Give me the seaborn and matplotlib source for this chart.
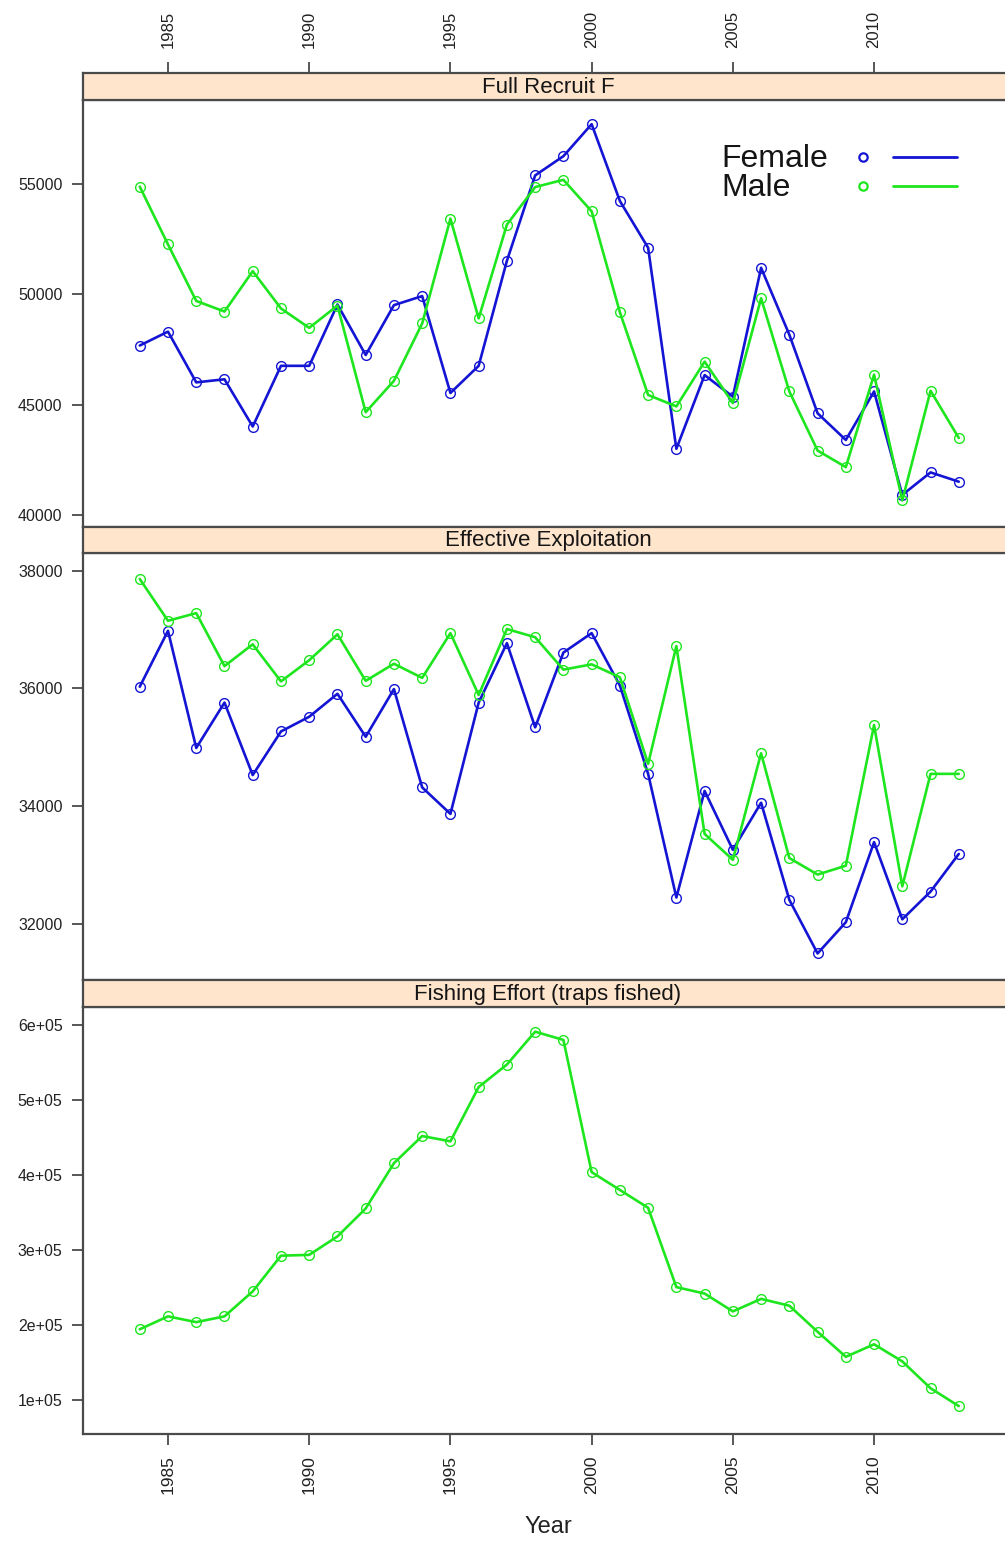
import matplotlib
matplotlib.use("Agg")
import matplotlib.pyplot as plt
from matplotlib.lines import Line2D
import seaborn as sns
import pandas as pd

# ---- data -------------------------------------------------------------
years = list(range(1984, 2014))

recruit_female = [47680, 48310, 46010, 46150, 44010, 46760, 46760, 49540, 47250, 49510,
                  49920, 45530, 46760, 51520, 55390, 56260, 57710, 54230, 52110, 43000,
                  46340, 45360, 51200, 48170, 44610, 43400, 45600, 40910, 41930, 41510]
recruit_male = [54880, 52260, 49700, 49220, 51050, 49360, 48480, 49490, 44660, 46080,
                48680, 53430, 48910, 53160, 54860, 55190, 53760, 49190, 45440, 44920,
                46950, 45070, 49820, 45600, 42920, 42170, 46360, 40660, 45630, 43490]

exploit_female = [36030, 36980, 34990, 35760, 34530, 35270, 35520, 35910, 35180, 35990,
                  34320, 33870, 35760, 36770, 35340, 36610, 36940, 36050, 34550, 32450,
                  34260, 33260, 34060, 32410, 31500, 32030, 33390, 32080, 32550, 33190]
exploit_male = [37860, 37150, 37280, 36380, 36750, 36120, 36480, 36920, 36130, 36420,
                36180, 36940, 35890, 37010, 36870, 36320, 36410, 36190, 34720, 36720,
                33530, 33090, 34900, 33120, 32840, 32990, 35380, 32640, 34550, 34550]

effort = [193800, 211000, 203300, 211000, 244300, 291900, 293000, 317600, 354800, 415200,
          451400, 444300, 516700, 546700, 590500, 579500, 403300, 379500, 355700, 250000,
          241400, 217600, 234300, 225200, 190500, 157100, 173800, 151000, 115200, 91400]

panel_titles = ["Full Recruit F", "Effective Exploitation", "Fishing Effort (traps fished)"]
xticks = [1985, 1990, 1995, 2000, 2005, 2010]
yticks_recruit = [40000, 45000, 50000, 55000]
yticks_exploit = [32000, 34000, 36000, 38000]
yticks_effort = [100000, 200000, 300000, 400000, 500000, 600000]
effort_labels = ["1e+05", "2e+05", "3e+05", "4e+05", "5e+05", "6e+05"]

BLUE = "#1414d4"
GREEN = "#1ee61e"
STRIP = "#ffe5cc"
FRAME = "#4a4a4a"
TEXT = "#151515"

sns.set_theme(style="white")
plt.rcParams["font.family"] = ["Liberation Sans", "DejaVu Sans"]

W, H = 1005, 1541
fig = plt.figure(figsize=(W / 100, H / 100), dpi=100)

x0, x1 = 82.7, 1013.3
panels = [(100.0, 526.7), (552.7, 980.0), (1007.3, 1434.3)]
strips = [(73.0, 100.0), (526.7, 552.7), (980.0, 1007.3)]
ylims = [(39470, 58806), (31049, 38306), (53800, 623000)]
xlim = (1981.98, 2014.93)


def rect(top, bottom):
    return [x0 / W, 1 - bottom / H, (x1 - x0) / W, (bottom - top) / H]


def draw_series(ax, y, color):
    df = pd.DataFrame({"Year": years, "value": y})
    sns.lineplot(data=df, x="Year", y="value", ax=ax, color=color, linewidth=1.9,
                 marker="o", markersize=7, markerfacecolor="none",
                 markeredgecolor=color, markeredgewidth=1.0, errorbar=None)


def style_frame(a):
    for s in a.spines.values():
        s.set_color(FRAME)
        s.set_linewidth(1.6)


axes, strip_axes = [], []
for i, ((t, b), (st, sb)) in enumerate(zip(panels, strips)):
    ax = fig.add_axes(rect(t, b))
    axes.append(ax)
    sax = fig.add_axes(rect(st, sb))
    strip_axes.append(sax)
    sax.set_facecolor(STRIP)
    sax.set_xlim(*xlim)
    sax.set_yticks([])
    sax.set_xticks([])
    sax.grid(False)
    style_frame(sax)
    sax.text(0.5, 0.47, panel_titles[i], ha="center", va="center",
             fontsize=16, color=TEXT, transform=sax.transAxes)

draw_series(axes[0], recruit_female, BLUE)
draw_series(axes[0], recruit_male, GREEN)
draw_series(axes[1], exploit_female, BLUE)
draw_series(axes[1], exploit_male, GREEN)
draw_series(axes[2], effort, GREEN)

yticks = [yticks_recruit, yticks_exploit, yticks_effort]
for i, ax in enumerate(axes):
    ax.set_xlim(*xlim)
    ax.set_ylim(*ylims[i])
    ax.set_facecolor("white")
    ax.grid(False)
    style_frame(ax)
    ax.set_xlabel("")
    ax.set_ylabel("")
    ax.set_yticks(yticks[i])
    if i == 2:
        ax.set_yticklabels(effort_labels)
    else:
        ax.set_yticklabels([str(v) for v in yticks[i]])
    ax.tick_params(axis="y", which="both", left=True, right=False, direction="out",
                   length=8, width=1.3, color=FRAME, pad=6.5, labelsize=11.5,
                   labelcolor="#222222")
    ax.set_xticks(xticks)
    if i == 2:
        ax.tick_params(axis="x", bottom=True, top=False, labelbottom=True, labeltop=False,
                       direction="out", length=8, width=1.3, color=FRAME, pad=7,
                       labelsize=12.5, labelrotation=90, labelcolor="#222222")
    else:
        ax.tick_params(axis="x", bottom=False, top=False, labelbottom=False, labeltop=False)

# year ticks above the first strip
top_strip = strip_axes[0]
top_strip.set_xticks(xticks)
top_strip.tick_params(axis="x", bottom=False, top=True, labelbottom=False, labeltop=True,
                      direction="out", length=8, width=1.3, color=FRAME, pad=10,
                      labelsize=12, labelrotation=90, labelcolor="#222222")

axes[2].set_xlabel("Year", fontsize=17, color="#222222", labelpad=16)

# legend keys in the upper panel
legend_rows = [("Female", BLUE, 157.0), ("Male", GREEN, 186.0)]
for name, col, ypx in legend_rows:
    fig.text(721 / W, 1 - (ypx + 2) / H, name, fontsize=23, ha="left", va="center",
             color=TEXT)
    fig.add_artist(Line2D([863 / W], [1 - ypx / H], transform=fig.transFigure,
                          marker="o", markersize=6, markerfacecolor="none",
                          markeredgecolor=col, markeredgewidth=1.6, linestyle="none"))
    fig.add_artist(Line2D([893 / W, 957 / W], [1 - ypx / H, 1 - ypx / H],
                          transform=fig.transFigure, color=col, linewidth=2.0))

fig.savefig("out.png", dpi=100, facecolor="white")
